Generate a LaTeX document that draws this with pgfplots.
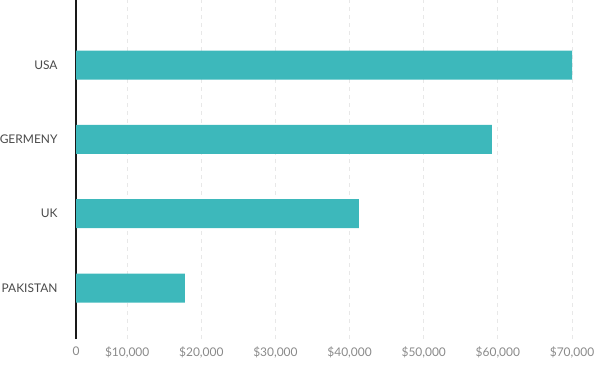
\documentclass[border=0pt]{standalone}
\usepackage{pgfplots}
\pgfplotsset{compat=1.18}
\usepackage{fontspec}
\setmainfont{Lato}
\definecolor{barteal}{HTML}{3DB8BB}
\definecolor{gridgrey}{HTML}{E8E8E8}
\definecolor{xlab}{HTML}{8A8A8A}
\definecolor{ylab}{HTML}{4A4A4A}
\begin{document}
\begin{tikzpicture}
\begin{axis}[
  name=ax,
  scale only axis, width=519bp, height=339bp,
  xmin=3100, xmax=73100, ymin=-0.686, ymax=3.875,
  xbar, bar width=29bp, bar shift=0pt,
  axis x line*=bottom, axis y line*=left,
  x axis line style={draw=none},
  y axis line style={draw=black!90, line width=1.6bp},
  xtick={3100,10000,20000,30000,40000,50000,60000,70000},
  xticklabels={0,{\$10,000},{\$20,000},{\$30,000},{\$40,000},{\$50,000},{\$60,000},{\$70,000}},
  ytick={0,1,2,3},
  yticklabels={PAKISTAN,UK,GERMENY,USA},
  major tick length=0pt,
  xmajorgrids,
  grid style={gridgrey, dash pattern=on 4bp off 4bp, line width=1bp},
  xticklabel style={font=\fontsize{12}{14}\selectfont, text=xlab, yshift=-4.5bp},
  yticklabel style={font=\fontsize{12}{14}\selectfont, text=ylab, xshift=-15bp},
  /pgf/number format/assume math mode=true,
]
\addplot[fill=barteal, draw=none] coordinates {(17800,0) (41250,1) (59200,2) (70000,3)};
\end{axis}
\pgfresetboundingbox
\path (ax.south west) ++(-76bp,-28bp) rectangle (ax.north east);
\end{tikzpicture}
\end{document}
